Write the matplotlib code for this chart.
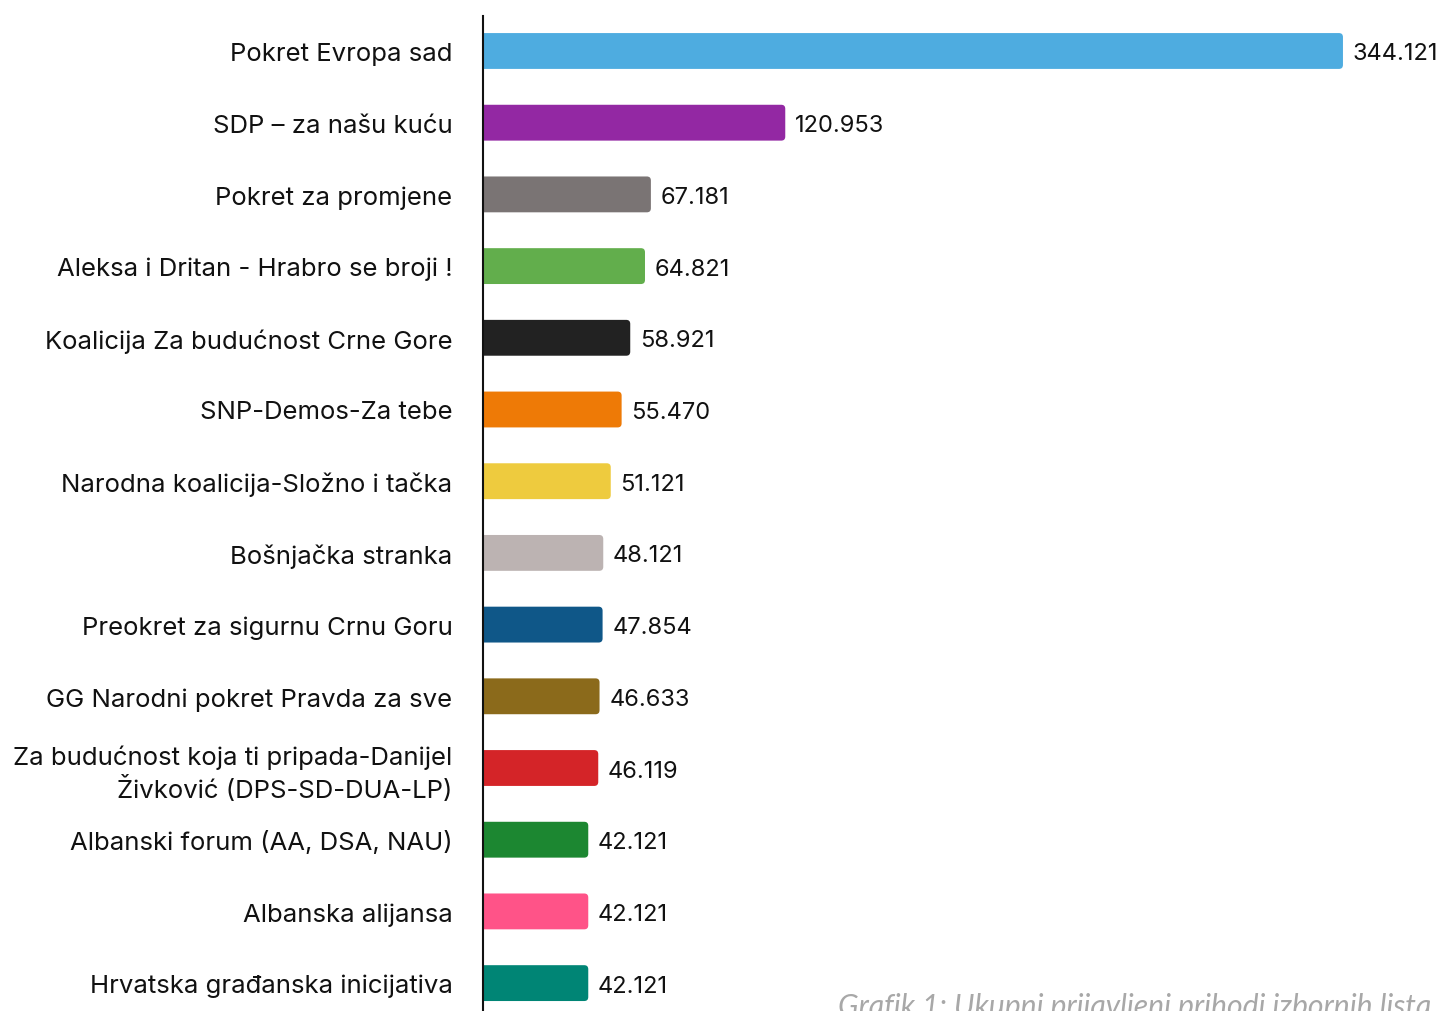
import matplotlib
matplotlib.use("Agg")
import matplotlib.pyplot as plt
from matplotlib.patches import FancyBboxPatch

plt.rcParams['font.family'] = ['Inter', 'DejaVu Sans']

parties = [
    "Pokret Evropa sad",
    "SDP – za našu kuću",
    "Pokret za promjene",
    "Aleksa i Dritan - Hrabro se broji !",
    "Koalicija Za budućnost Crne Gore",
    "SNP-Demos-Za tebe",
    "Narodna koalicija-Složno i tačka",
    "Bošnjačka stranka",
    "Preokret za sigurnu Crnu Goru",
    "GG Narodni pokret Pravda za sve",
    "Za budućnost koja ti pripada-Danijel\nŽivković (DPS-SD-DUA-LP)",
    "Albanski forum (AA, DSA, NAU)",
    "Albanska alijansa",
    "Hrvatska građanska inicijativa",
]
values = [344.121, 120.953, 67.181, 64.821, 58.921, 55.470, 51.121,
          48.121, 47.854, 46.633, 46.119, 42.121, 42.121, 42.121]
value_labels = ["344.121", "120.953", "67.181", "64.821", "58.921", "55.470", "51.121",
                "48.121", "47.854", "46.633", "46.119", "42.121", "42.121", "42.121"]
colors = ["#4EACE0", "#9328A3", "#7A7474", "#62AE4C", "#222222", "#EE7A06", "#EECB3E",
          "#BCB3B2", "#0F5788", "#8B6A1B", "#D42428", "#1C8731", "#FF5388", "#008575"]

fig = plt.figure(figsize=(14.4, 10.12), dpi=100)
# axes from x=483px to right edge, y from 17px to bottom edge
ax = fig.add_axes([483 / 1440, 0, 1 - 483 / 1440, 1 - 17 / 1012])
ax.set_xlim(0, (1440 - 483) / 2.499)
ax.set_ylim(13.389, -0.488)

bar_h = 0.5
for i, (v, c) in enumerate(zip(values, colors)):
    p = FancyBboxPatch((-3, i - bar_h / 2), v + 3, bar_h,
                       boxstyle="round,pad=0,rounding_size=1.6",
                       mutation_aspect=0.035, facecolor=c, edgecolor='none')
    ax.add_patch(p)
    ax.annotate(value_labels[i], (v, i), xytext=(7, 0), textcoords='offset points',
                va='center_baseline', ha='left', fontsize=17, color='#111111')

ax.set_yticks(range(len(parties)))
ax.set_yticklabels(parties, fontsize=18.5, color='#111111', linespacing=1.25)
ax.tick_params(axis='y', length=0, pad=22)
for lab in ax.get_yticklabels():
    lab.set_verticalalignment('center_baseline')
ax.set_xticks([])
for s in ['top', 'right', 'bottom']:
    ax.spines[s].set_visible(False)
ax.spines['left'].set_linewidth(1.5)
ax.spines['left'].set_color('#111111')

fig.text(838 / 1440, -4 / 1012, "Grafik 1: Ukupni prijavljeni prihodi izbornih lista",
         fontsize=21.7, style='italic', color='#A8A8A8', family=['Lato', 'DejaVu Sans'],
         ha='left', va='baseline')

fig.savefig("out.png", dpi=100)
